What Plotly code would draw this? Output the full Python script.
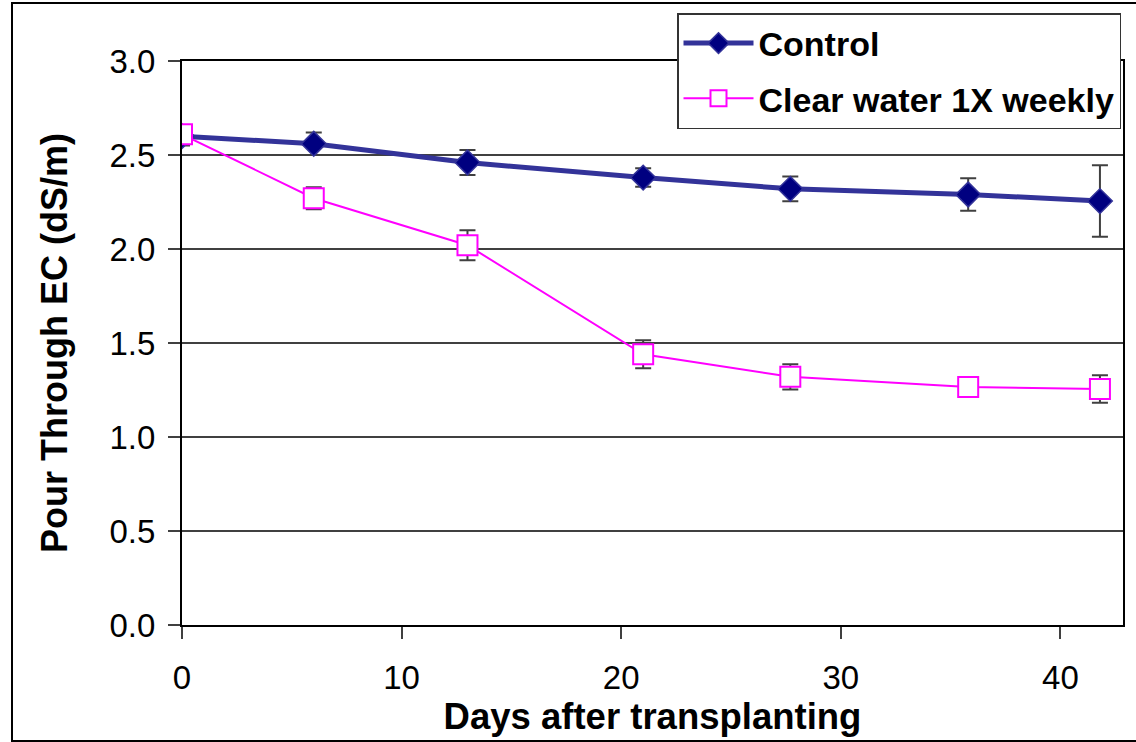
import plotly.graph_objects as go

days = [0, 6, 13, 21, 27.7, 35.8, 41.8]
control = [2.60, 2.56, 2.46, 2.38, 2.32, 2.29, 2.255]
control_err = [0.05, 0.06, 0.066, 0.049, 0.066, 0.086, 0.19]
clear = [2.61, 2.27, 2.02, 1.44, 1.32, 1.266, 1.255]
clear_err = [0.03, 0.058, 0.08, 0.074, 0.067, 0.03, 0.073]

x_ticks = [0, 10, 20, 30, 40]
y_ticks = [0.0, 0.5, 1.0, 1.5, 2.0, 2.5, 3.0]

FONT = "Liberation Sans, Arial, sans-serif"
W, H = 1136, 742
L, R, T, B = 182, 13, 61, 117
pw, ph = W - L - R, H - T - B

fig = go.Figure()
fig.add_trace(go.Scatter(
    x=days, y=control, name="Control", mode="lines+markers",
    legendgroup="a",
    line=dict(color="#333399", width=5),
    marker=dict(symbol="diamond", size=19, color="#000080",
                line=dict(color="#333399", width=1.5)),
    error_y=dict(type="data", array=control_err, visible=True,
                 color="#404040", thickness=2, width=8),
))
fig.add_trace(go.Scatter(
    x=days, y=clear, name="Clear water 1X weekly", mode="lines+markers",
    legendgroup="b",
    line=dict(color="#FF00FF", width=2),
    marker=dict(symbol="square", size=20, color="white",
                line=dict(color="#FF00FF", width=2)),
    error_y=dict(type="data", array=clear_err, visible=True,
                 color="#404040", thickness=2, width=8),
))

def px_x(p):
    return (p - L) / pw

def px_y(p):
    return (H - B - p) / ph

fig.add_shape(type="rect", xref="paper", yref="paper",
              x0=px_x(12), x1=px_x(1145), y0=px_y(741), y1=px_y(3),
              line=dict(color="black", width=2), layer="below")

fig.update_layout(
    width=W, height=H,
    margin=dict(l=L, r=R, t=T, b=B, pad=0),
    paper_bgcolor="white", plot_bgcolor="white",
    font=dict(family=FONT, size=33, color="black"),
    showlegend=True,
    legend=dict(
        x=px_x(677), y=px_y(13), xanchor="left", yanchor="top",
        bgcolor="white", bordercolor="#333333", borderwidth=1.5,
        font=dict(family=FONT, size=34, color="black", weight="bold"),
        itemwidth=70, tracegroupgap=8, traceorder="grouped",
    ),
    xaxis=dict(
        range=[0, 42.85], tickvals=x_ticks, ticktext=[str(v) for v in x_ticks],
        ticks="outside", ticklen=12, tickwidth=2, tickcolor="#404040",
        showline=True, linecolor="black", linewidth=2, mirror=True,
        showgrid=False, zeroline=False,
        tickfont=dict(size=33), ticklabelstandoff=10,
        title=dict(text="<b>Days after transplanting</b>", standoff=0,
                   font=dict(size=36.5)),
    ),
    yaxis=dict(
        range=[0, 3.0], tickvals=y_ticks, ticktext=[f"{v:.1f}" for v in y_ticks],
        ticks="outside", ticklen=12, tickwidth=2, tickcolor="#404040",
        showline=True, linecolor="black", linewidth=2, mirror=True,
        showgrid=True, gridcolor="#404040", gridwidth=2,
        zeroline=False,
        tickfont=dict(size=33), ticklabelstandoff=6,
        title=dict(text="<b>Pour Through EC (dS/m)</b>", standoff=31,
                   font=dict(size=36)),
    ),
)

fig.write_html("out.html", config={"displayModeBar": False},
               post_script="document.body.style.margin='0';")
